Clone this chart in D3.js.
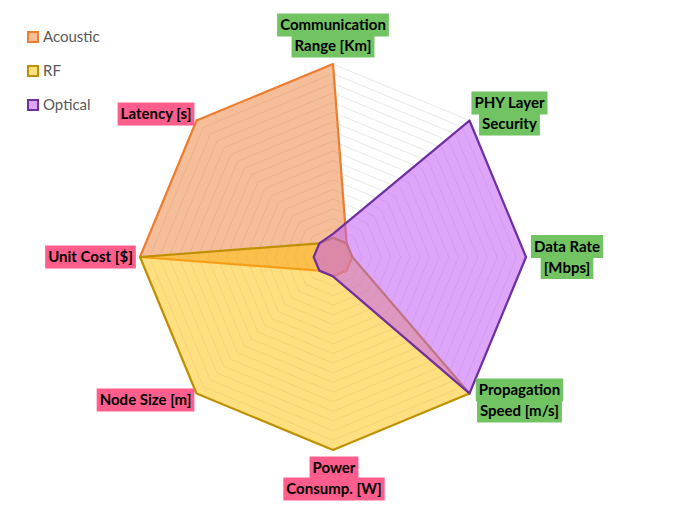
<!DOCTYPE html>
<html>
<head>
<meta charset="utf-8">
<script src="https://cdn.jsdelivr.net/npm/d3@7"></script>
<style>
  body { margin: 0; background: #fff; }
  svg { display: block; }
</style>
</head>
<body>
<svg id="chart" width="677" height="523"></svg>
<script>
// axis labels, clockwise from the top
const axes = [
  ['Communication', 'Range [Km]'],
  ['PHY Layer', 'Security'],
  ['Data Rate', '[Mbps]'],
  ['Propagation', 'Speed [m/s]'],
  ['Power', 'Consump. [W]'],
  ['Node Size [m]'],
  ['Unit Cost [$]'],
  ['Latency [s]']
];
const seriesNames = ['Acoustic', 'RF', 'Optical'];
const acoustic = [10, 1, 1, 1, 1, 1, 10, 10];
const rf = [1, 1, 1, 10, 10, 10, 10, 1];
const optical = [1.2, 10, 10, 10, 1, 1, 1, 1];
const maxValue = 10;
const gridLevels = 20;

// styles
const strokeColors = ['#ed7d31', '#bf9000', '#7030a0'];
const fillColors = ['#ed7d31', '#ffc000', '#c35cf6'];
const fillOpacity = [0.5, 0.5, 0.55];
const labelBg = ['#72c362', '#72c362', '#72c362', '#72c362', '#ff5e8d', '#ff5e8d', '#ff5e8d', '#ff5e8d'];
// label block centre relative to the axis end: [dx, dy]
const labelOffset = [
  [0, -28.5], [40, -7], [41, 0], [50, 7],
  [1, 28.5], [-51, 6.5], [-49.5, 0], [-40.5, -6.5]
];

const svg = d3.select('#chart');
const cx = 333, cy = 257, R = 193;
const rScale = d3.scaleLinear().domain([0, maxValue]).range([0, R]);
const angle = i => i * 2 * Math.PI / axes.length;
const pt = (i, v) => [cx + rScale(v) * Math.sin(angle(i)), cy - rScale(v) * Math.cos(angle(i))];

const radial = d3.lineRadial()
  .angle((d, i) => angle(i))
  .radius(d => rScale(d))
  .curve(d3.curveLinearClosed);

const g = svg.append('g').attr('transform', `translate(${cx},${cy})`);

// gridlines
const levels = d3.range(1, gridLevels + 1).map(k => k * maxValue / gridLevels);
g.selectAll('.grid').data(levels).enter().append('path')
  .attr('class', 'grid')
  .attr('d', v => radial(axes.map(() => v)))
  .attr('fill', 'none')
  .attr('stroke', '#e0e0e0')
  .attr('stroke-width', 0.75);

// series
const series = [acoustic, rf, optical];
g.selectAll('.series').data(series).enter().append('path')
  .attr('class', 'series')
  .attr('d', d => radial(d))
  .attr('fill', (d, i) => fillColors[i])
  .attr('fill-opacity', (d, i) => fillOpacity[i])
  .attr('stroke', (d, i) => strokeColors[i])
  .attr('stroke-width', 2.25)
  .attr('stroke-linejoin', 'round');

// axis labels, each line with its own highlight
const lineH = 21;
axes.forEach((lines, i) => {
  const [ex, ey] = pt(i, maxValue);
  const [dx, dy] = labelOffset[i];
  const x = ex + dx;
  const firstY = ey + dy - (lines.length - 1) * lineH / 2;
  const lg = svg.append('g');
  lines.forEach((t, j) => {
    const y = firstY + j * lineH;
    const rect = lg.append('rect');
    const txt = lg.append('text')
      .attr('x', x)
      .attr('y', y)
      .attr('dy', '0.35em')
      .attr('text-anchor', 'middle')
      .attr('font-family', 'Lato, "Open Sans", sans-serif')
      .attr('font-weight', 'bold')
      .attr('font-size', 15)
      .attr('fill', '#000')
      .text(t);
    const w = txt.node().getComputedTextLength() + 6;
    rect.attr('x', x - w / 2).attr('y', y - 11.5).attr('width', w).attr('height', 23)
      .attr('fill', labelBg[i]);
  });
});

// legend
const legend = svg.append('g').attr('transform', 'translate(27,37)');
seriesNames.forEach((name, i) => {
  const item = legend.append('g').attr('transform', `translate(0,${i * 34})`);
  item.append('rect')
    .attr('x', 1).attr('y', -5).attr('width', 10).attr('height', 10)
    .attr('fill', fillColors[i]).attr('fill-opacity', fillOpacity[i])
    .attr('stroke', strokeColors[i]).attr('stroke-width', 2);
  item.append('text')
    .attr('x', 16).attr('y', 0).attr('dy', '0.35em')
    .attr('font-family', 'Lato, "Open Sans", sans-serif')
    .attr('font-size', 15)
    .attr('fill', '#595959')
    .text(name);
});
</script>
</body>
</html>
